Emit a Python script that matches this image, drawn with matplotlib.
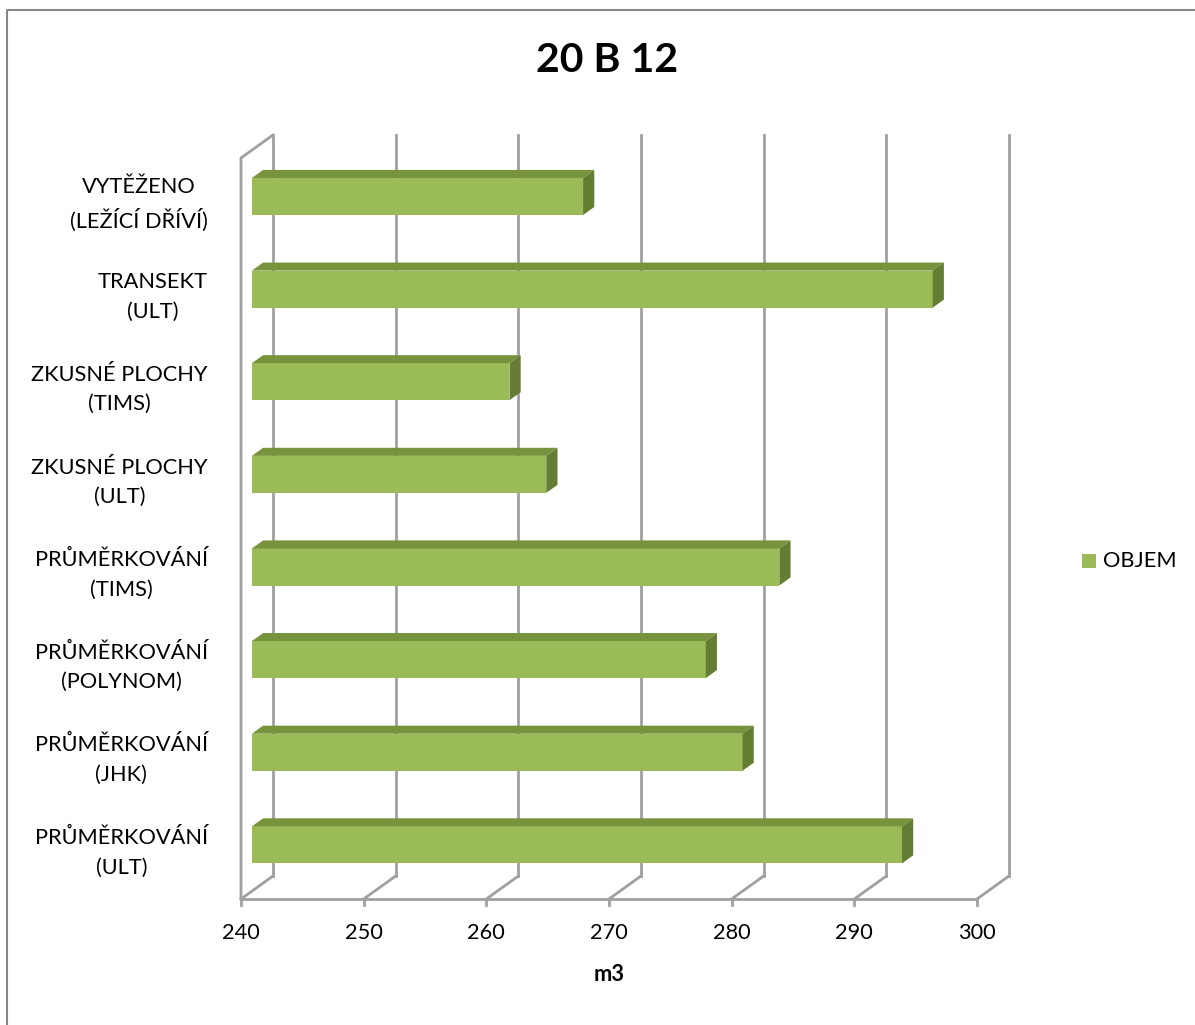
import matplotlib.pyplot as plt
from matplotlib.patches import Polygon, Rectangle

categories = ['PRŮMĚRKOVÁNÍ\n(ULT)', 'PRŮMĚRKOVÁNÍ\n(JHK)', 'PRŮMĚRKOVÁNÍ\n(POLYNOM)',
              'PRŮMĚRKOVÁNÍ\n(TIMS)', 'ZKUSNÉ PLOCHY\n(ULT)', 'ZKUSNÉ PLOCHY\n(TIMS)',
              'TRANSEKT\n(ULT)', 'VYTĚŽENO\n(LEŽÍCÍ DŘÍVÍ)']
objem = [293, 280, 277, 283, 264, 261, 295.5, 267]
xticks = [240, 250, 260, 270, 280, 290, 300]

plt.rcParams['font.family'] = ['Lato', 'DejaVu Sans']

front = '#9BBB59'
top_c = '#77933C'
side_c = '#657D33'
grid_c = '#A0A0A0'
fs = 15.7

W, H = 1195, 1025
fig = plt.figure(figsize=(W / 100, H / 100), dpi=100)

# front plane of the pseudo 3d plot box
x0, x1 = 241, 977
y0, y1 = 899, 158
ax = fig.add_axes([x0 / W, 1 - y0 / H, (x1 - x0) / W, (y0 - y1) / H])
ax.set_xlim(240, 300)
ax.set_ylim(0, len(categories))
ax.axis('off')

# depth of the box in data units
DX = 32 / ((x1 - x0) / 60)
DY = 23 / ((y0 - y1) / len(categories))
f0, f1 = 0.34, 0.69
bh = 0.40

# back wall gridlines + floor diagonals
for t in xticks:
    ax.plot([t + DX, t + DX], [DY, len(categories) + DY], color=grid_c, lw=2, clip_on=False)
    ax.plot([t, t], [0, -0.07], color=grid_c, lw=2, clip_on=False)
    ax.plot([t, t + DX], [0, DY], color=grid_c, lw=2, clip_on=False)
    ax.text(t, -0.37, str(t), ha='center', va='center', fontsize=fs)

# floor front edge and left wall
ax.plot([240, 300], [0, 0], color=grid_c, lw=2, clip_on=False)
ax.plot([240, 240, 240 + DX], [0, len(categories), len(categories) + DY],
        color=grid_c, lw=2, clip_on=False)

for i, v in enumerate(objem):
    yb = i + 0.5 - bh / 2 + f0 * DY
    yt = yb + bh
    xl = 240 + f0 * DX
    xr = v + f0 * DX
    d = (f1 - f0)
    ax.add_patch(Rectangle((xl, yb), xr - xl, bh, facecolor=front, edgecolor='none',
                           clip_on=False, zorder=3))
    ax.add_patch(Polygon([(xl, yt), (xr, yt), (xr + d * DX, yt + d * DY), (xl + d * DX, yt + d * DY)],
                         closed=True, facecolor=top_c, edgecolor='none', clip_on=False, zorder=3))
    ax.add_patch(Polygon([(xr, yb), (xr + d * DX, yb + d * DY), (xr + d * DX, yt + d * DY), (xr, yt)],
                         closed=True, facecolor=side_c, edgecolor='none', clip_on=False, zorder=3))
    ax.text(240 - 2.7, i + 0.5, categories[i], ha='right', va='center', multialignment='center',
            fontsize=fs, linespacing=1.58)

ax.text(270, -0.82, 'm3', ha='center', va='center', fontsize=fs, fontweight='bold')

fig.text(607 / W, 1 - 61 / H, '20 B 12', ha='center', va='center', fontsize=29.5, fontweight='bold')

# legend
fig.patches.append(Rectangle((1082 / W, 1 - 568 / H), 14 / W, 14 / H, transform=fig.transFigure,
                             facecolor=front, edgecolor='none'))
fig.text(1103 / W, 1 - 561 / H, 'OBJEM', ha='left', va='center', fontsize=fs)

# chart border
fig.add_artist(plt.Line2D([7 / W, 7 / W, 1], [0, 1 - 10 / H, 1 - 10 / H],
                          transform=fig.transFigure, color='#888888', lw=1.5))

fig.savefig('out.png', dpi=100)
